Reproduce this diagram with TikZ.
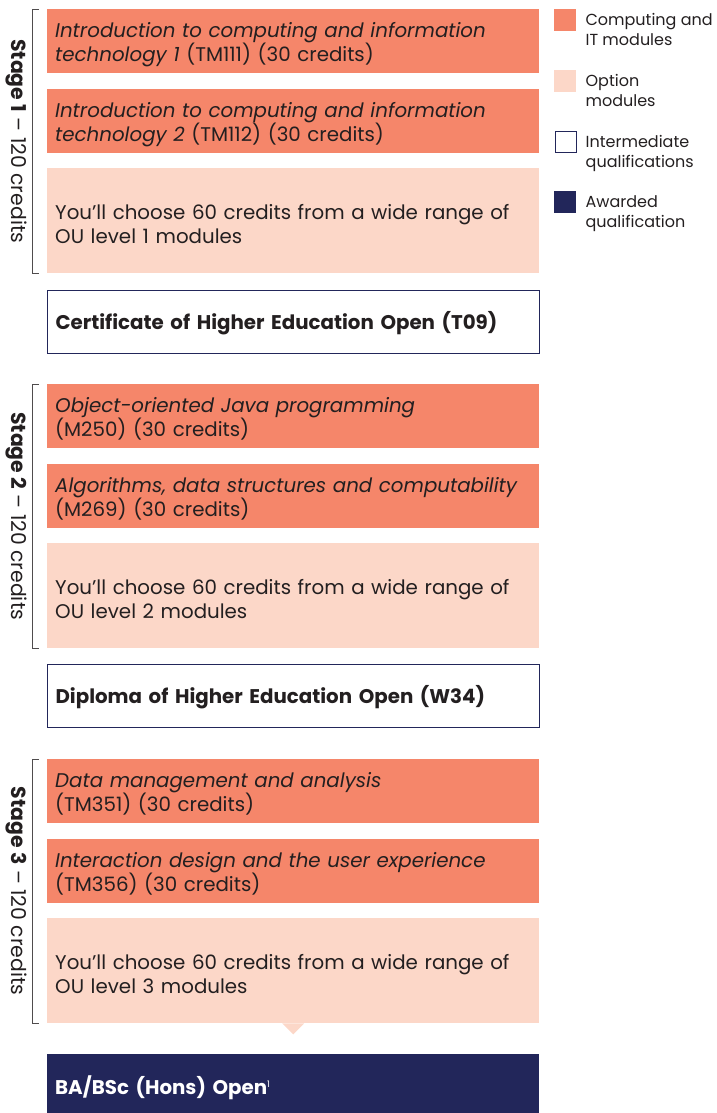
\documentclass[tikz,border=0pt]{standalone}
\usepackage{fontspec}
\setmainfont{Poppins}
\usepackage[HTML]{xcolor}
\usetikzlibrary{positioning,calc}
\definecolor{compcol}{HTML}{F5866A}
\definecolor{optcol}{HTML}{FCD7C8}
\definecolor{navy}{HTML}{22265A}
\definecolor{ink}{HTML}{231F20}
\newcommand{\modfont}{\fontsize{19.8}{24}\selectfont}
\newcommand{\keyfont}{\fontsize{16}{20}\selectfont}

\begin{document}
\begin{tikzpicture}[x=1pt,y=-1pt,
  mod/.style={anchor=north west,minimum width=492pt,text width=476pt,inner xsep=8pt,inner ysep=0pt,align=left,font=\modfont,text=ink,execute at begin node={\rule{0pt}{21pt}}},
  comp/.style={mod,fill=compcol,minimum height=64pt},
  opt/.style={mod,fill=optcol,minimum height=105pt},
  inter/.style={mod,draw=navy,line width=1.2pt,fill=white,minimum height=63pt,font=\modfont\bfseries},
  award/.style={mod,fill=navy,minimum height=64pt,text=white,font=\modfont\bfseries},
  key/.style={anchor=north west,minimum size=22pt,inner sep=0pt},
  keytext/.style={anchor=north west,inner sep=0pt,align=left,font=\keyfont,text=ink},
  stage/.style={rotate=-90,inner sep=0pt,font=\fontsize{20.4}{24}\selectfont,text=ink},
  bracket/.style={draw=ink!80,line width=0.9pt}]
\useasboundingbox (0,0) rectangle (716,1113);

% stage 1
\node[comp] (s1a) at (47,9) {\textit{Introduction to computing and information}\\ \textit{technology 1} (TM111) (30 credits)};
\node[comp] (s1b) at (47,89) {\textit{Introduction to computing and information}\\ \textit{technology 2} (TM112) (30 credits)};
\node[opt] (s1c) at (47,168) {You’ll choose 60 credits from a wide range of\\ OU level 1 modules};
\node[inter] (cert) at (47,290) {Certificate of Higher Education Open (T09)};

% stage 2
\node[comp] (s2a) at (47,384) {\textit{Object-oriented Java programming}\\ (M250) (30 credits)};
\node[comp] (s2b) at (47,464) {\textit{Algorithms, data structures and computability}\\ (M269) (30 credits)};
\node[opt] (s2c) at (47,543) {You’ll choose 60 credits from a wide range of\\ OU level 2 modules};
\node[inter] (dip) at (47,664) {Diploma of Higher Education Open (W34)};

% stage 3
\node[comp] (s3a) at (47,759) {\textit{Data management and analysis}\\ (TM351) (30 credits)};
\node[comp] (s3b) at (47,839) {\textit{Interaction design and the user experience}\\ (TM356) (30 credits)};
\node[opt] (s3c) at (47,918) {You’ll choose 60 credits from a wide range of\\ OU level 3 modules};
\node[award] (hons) at (47,1054) {BA/BSc (Hons) Open{\mdseries\fontsize{9}{9}\selectfont\raisebox{7pt}{1}}};
\fill[optcol] ([xshift=-11pt]s3c.south) -- ([xshift=11pt]s3c.south) -- ([yshift=-11pt]s3c.south) -- cycle;

% brackets and stage labels
\foreach \s in {1,2,3}{
  \draw[bracket] ([xshift=-8pt]s\s a.north west) -| ([xshift=-15pt]s\s c.south west) -- ([xshift=-8pt]s\s c.south west);
  \node[stage] (st\s) at ([xshift=-31pt]$(s\s a.north west)!0.5!(s\s c.south west)$) {\textbf{Stage \s} – 120 credits};
}

% key
\node[key,fill=compcol] (k1) at (554,9) {};
\node[key,fill=optcol] (k2) at (554,70) {};
\node[key,draw=navy,line width=1pt,minimum size=21pt] (k3) at (554.5,131) {};
\node[key,fill=navy] (k4) at (554,191) {};
\node[keytext] (k1t) at ([xshift=9pt,yshift=-4pt]k1.north east) {Computing and\\ IT modules};
\node[keytext] (k2t) at ([xshift=9pt,yshift=-4pt]k2.north east) {Option\\ modules};
\node[keytext] (k3t) at ([xshift=9pt,yshift=-4pt]k3.north east) {Intermediate\\ qualifications};
\node[keytext] (k4t) at ([xshift=9pt,yshift=-4pt]k4.north east) {Awarded\\ qualification};
\end{tikzpicture}
\end{document}
